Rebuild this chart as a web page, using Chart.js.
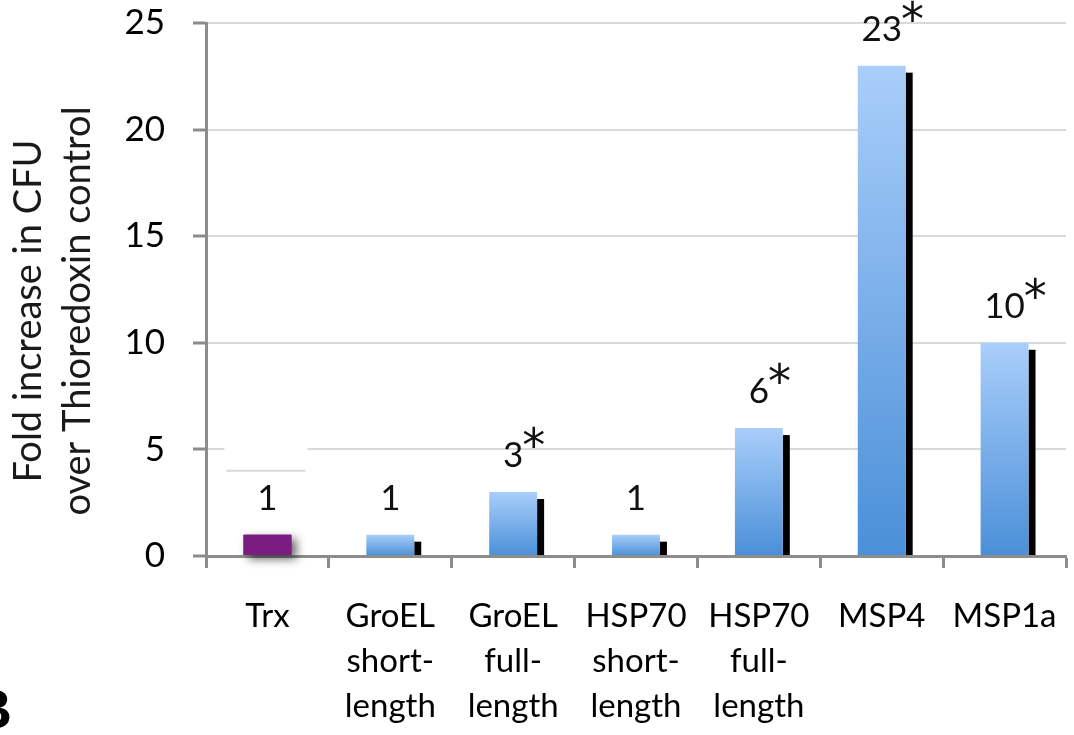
<!DOCTYPE html>
<html>
<head>
<meta charset="utf-8">
<script src="https://cdn.jsdelivr.net/npm/chart.js@4/dist/chart.umd.min.js"></script>
<style>
  html, body { margin: 0; padding: 0; background: #fff; }
  #wrap { width: 1074px; height: 735px; }
</style>
</head>
<body>
<div id="wrap"><canvas id="chart" width="1074" height="735"></canvas></div>
<script>
// chart data
const categories = [
    ['Trx'],
    ['GroEL', 'short-', 'length'],
    ['GroEL', 'full-', 'length'],
    ['HSP70', 'short-', 'length'],
    ['HSP70', 'full-', 'length'],
    ['MSP4'],
    ['MSP1a']
];
const foldValues = [1, 1, 3, 1, 6, 23, 10];
const valueLabels = ['1', '1', '3', '1', '6', '23', '10'];
const significant = [false, false, true, false, true, true, true];
const yTicks = [0, 5, 10, 15, 20, 25];
const yTitle = ['Fold increase in CFU', 'over Thioredoxin control'];

const gridColour = '#d9d9d9';
const axisColour = '#8c8c8c';
const trxColour = '#7b1c80';

// vertical gradient per bar, light at the top
function barFill(context) {
    const chart = context.chart;
    if (context.dataIndex === 0) return trxColour;
    const y = chart.scales.y;
    if (!chart.chartArea || !y) return '#7fb0ea';
    const top = y.getPixelForValue(foldValues[context.dataIndex]);
    const bottom = y.getPixelForValue(0);
    const g = chart.ctx.createLinearGradient(0, top, 0, bottom);
    g.addColorStop(0, '#a9cefa');
    g.addColorStop(1, '#4a8fd8');
    return g;
}

// odd broken gridline near the Trx column, plus bar shadows
const barShadows = {
    id: 'barShadows',
    beforeDatasetsDraw(chart) {
        const ctx = chart.ctx;
        const xs = chart.scales.x, ys = chart.scales.y;
        const x0 = xs.getPixelForValue(0);
        const y5 = ys.getPixelForValue(5), y4 = ys.getPixelForValue(4);
        ctx.save();
        ctx.fillStyle = '#fff';
        ctx.fillRect(x0 - 43, y5 - 2, 83, 4);
        ctx.strokeStyle = gridColour;
        ctx.lineWidth = 2;
        ctx.beginPath();
        ctx.moveTo(x0 - 41, y4);
        ctx.lineTo(x0 + 38, y4);
        ctx.stroke();
        ctx.restore();

        chart.getDatasetMeta(0).data.forEach(function(bar, i) {
            const p = bar.getProps(['x', 'y', 'width', 'base'], true);
            ctx.save();
            if (i === 0) {
                ctx.shadowColor = 'rgba(0,0,0,0.6)';
                ctx.shadowBlur = 10;
                ctx.shadowOffsetX = 5;
                ctx.shadowOffsetY = 4;
                ctx.fillStyle = trxColour;
                ctx.fillRect(p.x - p.width / 2, p.y, p.width, p.base - p.y);
            } else {
                ctx.fillStyle = '#000';
                ctx.fillRect(p.x + p.width / 2, p.y + 7, 7, p.base - p.y - 7);
            }
            ctx.restore();
        });
    }
};

// numbers above bars, asterisk for significant ones
const valueText = {
    id: 'valueText',
    afterDatasetsDraw(chart) {
        const ctx = chart.ctx;
        chart.getDatasetMeta(0).data.forEach(function(bar, i) {
            const p = bar.getProps(['x', 'y'], true);
            const ty = p.y - 25;
            ctx.save();
            ctx.fillStyle = '#111';
            ctx.font = '35px Lato';
            ctx.textAlign = 'center';
            ctx.textBaseline = 'alphabetic';
            ctx.fillText(valueLabels[i], p.x, ty);
            if (significant[i]) {
                const w = ctx.measureText(valueLabels[i]).width;
                ctx.font = '46px "DejaVu Sans"';
                ctx.textAlign = 'left';
                ctx.fillText('*', p.x + w / 2 - 1, ty - 6);
            }
            ctx.restore();
        });
    }
};

// y title (two lines, rotated) and the clipped panel letter
const extraText = {
    id: 'extraText',
    afterDraw(chart) {
        const ctx = chart.ctx;
        ctx.save();
        ctx.fillStyle = '#1a1a1a';
        ctx.font = '38px Lato';
        ctx.textAlign = 'center';
        ctx.textBaseline = 'alphabetic';
        [41, 90].forEach(function(bx, k) {
            ctx.save();
            ctx.translate(bx, 311);
            ctx.rotate(-Math.PI / 2);
            ctx.fillText(yTitle[k], 0, 0);
            ctx.restore();
        });
        ctx.fillStyle = '#000';
        ctx.font = 'bold 56px "Liberation Sans"';
        ctx.textAlign = 'right';
        ctx.fillText('B', 12, 728);
        ctx.restore();
    }
};

new Chart(document.getElementById('chart'), {
    type: 'bar',
    data: {
        labels: categories,
        datasets: [{
            data: foldValues,
            backgroundColor: barFill,
            borderWidth: 0,
            barPercentage: 0.39,
            categoryPercentage: 1
        }]
    },
    plugins: [barShadows, valueText, extraText],
    options: {
        responsive: false,
        devicePixelRatio: 1,
        animation: false,
        layout: { padding: { left: 0, top: 23, right: 8, bottom: 0 } },
        plugins: {
            legend: { display: false },
            tooltip: { enabled: false }
        },
        scales: {
            x: {
                offset: true,
                grid: {
                    offset: true,
                    drawOnChartArea: false,
                    drawTicks: true,
                    tickLength: 12,
                    tickColor: axisColour,
                    tickWidth: 3,
                    color: axisColour
                },
                border: { color: axisColour, width: 3 },
                ticks: {
                    color: '#000',
                    font: { family: 'Lato', size: 33, lineHeight: '45px' },
                    padding: 26,
                    maxRotation: 0,
                    autoSkip: false
                },
                afterFit(scale) {
                    scale.height = 735 - 556;
                    scale.paddingLeft = 0;
                    scale.paddingRight = 0;
                }
            },
            y: {
                min: 0,
                max: 25,
                afterBuildTicks(scale) {
                    scale.ticks = yTicks.map(function(v) { return { value: v }; });
                },
                grid: {
                    color: gridColour,
                    lineWidth: 2,
                    tickLength: 13,
                    tickColor: axisColour,
                    tickWidth: 3
                },
                border: { color: axisColour, width: 3 },
                ticks: {
                    color: '#000',
                    font: { family: 'Lato', size: 35 },
                    padding: 28
                },
                afterFit(scale) {
                    scale.width = 206;
                    scale.paddingTop = 0;
                    scale.paddingBottom = 0;
                }
            }
        }
    }
});
</script>
</body>
</html>
